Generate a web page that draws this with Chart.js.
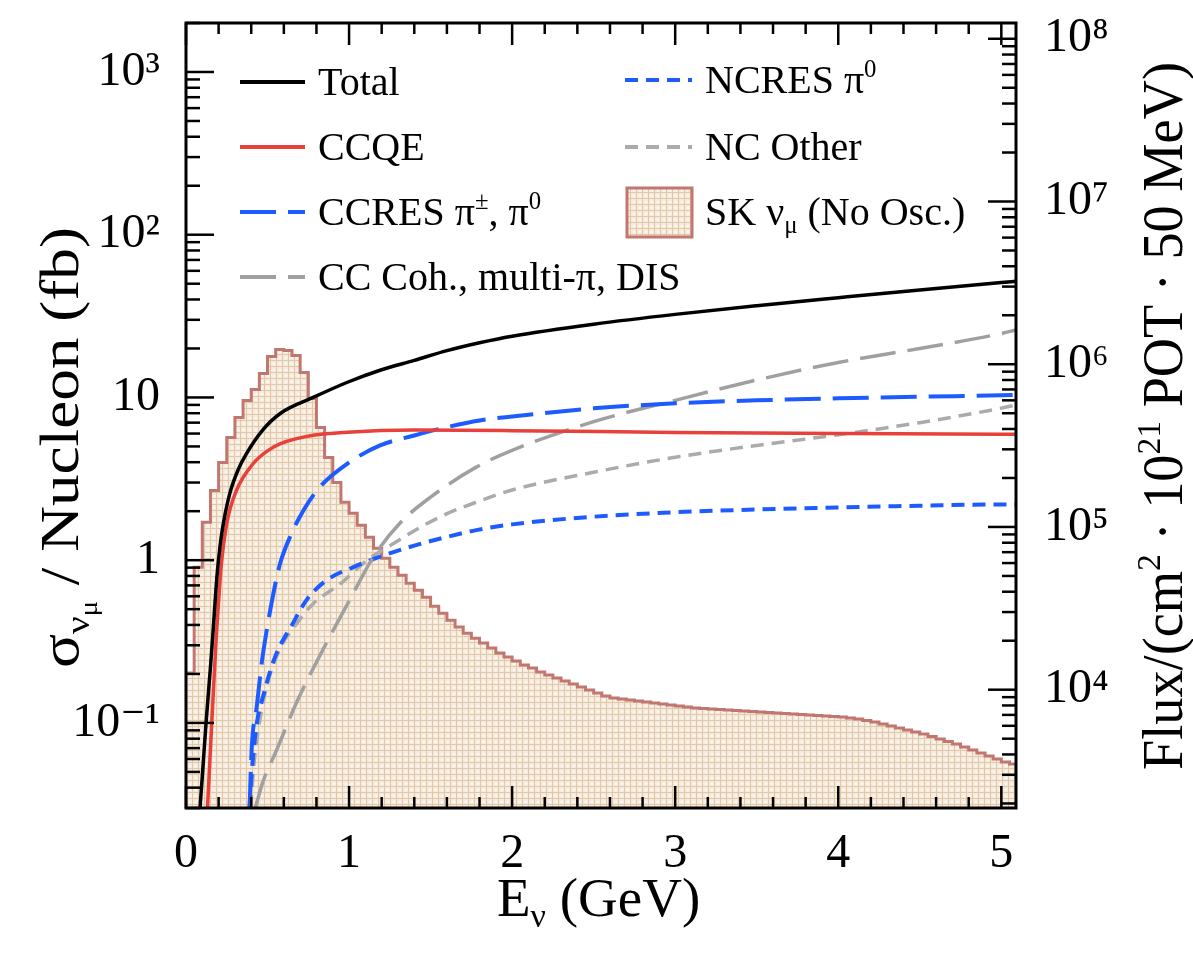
<!DOCTYPE html>
<html><head><meta charset="utf-8">
<script src="https://cdn.jsdelivr.net/npm/chart.js@4.4.1/dist/chart.umd.min.js"></script>
<style>html,body{margin:0;padding:0;background:#fff;}</style>
</head><body>
<canvas id="c" width="1193" height="953"></canvas>
<script>
// ---------------- DATA ----------------
const binWidth = 0.05; // GeV, SK flux histogram bins starting at 0
const fluxSK = [12650, 56560, 106800, 167800, 249300, 354900, 470800, 598600, 699000, 876000,
 1114000, 1230000, 1213000, 1130000, 889000, 616000, 409000, 267600, 187900, 141700,
 121300, 102400, 86400, 74000, 64200, 56600, 50500, 45100, 40900, 37000,
 32600, 29530, 26760, 24240, 22260, 20740, 19330, 18010, 16780, 15860,
 14990, 14170, 13580, 12830, 12300, 11790, 11300, 10830, 10380, 9950,
 9540, 9140, 8890, 8760, 8640, 8520, 8400, 8280, 8170, 8050,
 7940, 7830, 7720, 7660, 7610, 7550, 7500, 7450, 7400, 7350,
 7290, 7240, 7190, 7140, 7090, 7040, 6990, 6940, 6890, 6850,
 6800, 6700, 6610, 6470, 6330, 6160, 5990, 5820, 5660, 5500,
 5350, 5160, 4980, 4810, 4640, 4450, 4260, 4090, 3920, 3750,
 3600, 3500];

const totalE = [0.086,0.10,0.123,0.15,0.168,0.19,0.21,0.23,0.27,0.32,0.37,0.47,0.58,0.78,0.99,1.19,1.4,1.6,1.8,2.0,2.5,3.0,3.5,4.0,4.5,5.0,5.09];
const totalV = [0.03,0.047,0.1,0.22,0.39,0.8,1.25,1.7,2.6,3.6,4.5,6.3,8.0,10.0,12.4,14.7,16.9,19.4,21.7,23.8,28.2,32.4,36.6,41.0,45.8,50.8,51.8];

const ccqeE = [0.132,0.145,0.158,0.17,0.185,0.2,0.215,0.25,0.31,0.41,0.5,0.58,0.78,0.99,1.4,2.0,3.0,4.0,5.0,5.09];
const ccqeV = [0.03,0.055,0.1,0.17,0.33,0.56,0.9,1.68,2.69,3.9,4.7,5.2,5.85,6.12,6.3,6.25,6.1,6.0,5.95,5.95];

const ccresE = [0.39,0.403,0.434,0.464,0.495,0.536,0.577,0.638,0.72,0.82,0.99,1.19,1.4,1.6,1.8,2.0,2.5,3.0,3.5,4.0,4.5,5.0,5.09];
const ccresV = [0.03,0.07,0.126,0.232,0.371,0.624,0.953,1.39,2.02,2.81,3.92,5.07,5.84,6.57,7.22,7.64,8.57,9.2,9.6,9.87,10.1,10.3,10.35];

const ccothE = [0.425,0.47,0.55,0.68,0.83,1.0,1.15,1.31,1.5,1.78,2.0,2.5,3.0,3.5,4.0,4.5,5.0,5.09];
const ccothV = [0.03,0.043,0.066,0.135,0.27,0.56,1.05,1.68,2.44,3.73,4.73,7.1,9.6,12.8,16.4,20.0,24.7,26.0];

const ncresE = [0.39,0.40,0.43,0.48,0.55,0.65,0.74,0.86,1.03,1.19,1.4,1.6,1.78,2.0,2.5,3.0,3.5,4.0,4.5,5.0,5.09];
const ncresV = [0.03,0.045,0.093,0.155,0.26,0.40,0.57,0.75,0.91,1.05,1.23,1.39,1.53,1.66,1.85,1.97,2.05,2.11,2.16,2.2,2.2];

const ncothE = [0.395,0.42,0.45,0.5,0.58,0.68,0.78,0.95,1.11,1.27,1.44,1.6,1.78,2.0,2.5,3.0,3.5,4.0,4.5,5.0,5.09];
const ncothV = [0.03,0.06,0.1,0.175,0.29,0.41,0.54,0.72,1.0,1.26,1.6,1.93,2.27,2.7,3.47,4.29,5.07,5.9,7.0,8.6,9.0];

const xTicks = [0,1,2,3,4,5];
const yLeftTicks = [0.1,1,10,100,1000];
const yLeftLabels = ['10\u207B\u00B9','1','10','10\u00B2','10\u00B3'];
const yRightTicks = [1e4,1e5,1e6,1e7,1e8];
const yRightLabels = ['10\u2074','10\u2075','10\u2076','10\u2077','10\u2078'];

// ---------------- STYLE ----------------
const FAM = "'Liberation Serif','DejaVu Serif',serif";
const BLUE = '#1e5bff', RED = '#e8413c', GRAY1 = '#a0a0a0', GRAY2 = '#ababab', OUTLINE = '#c27670';
const LONG = [36,12], SHORT = [13,8];

const canvas = document.getElementById('c');
const mainCtx = canvas.getContext('2d');
function makePattern(){
  const c = document.createElement('canvas'); c.width = 6; c.height = 6;
  const g = c.getContext('2d');
  g.fillStyle = '#f5ebdf'; g.fillRect(0,0,6,6);
  g.fillStyle = '#e3c8a8'; g.fillRect(0,0,6,1); g.fillRect(0,0,1,6);
  g.fillStyle = '#fcf7f0'; g.fillRect(3,3,2,2);
  return mainCtx.createPattern(c,'repeat');
}
const PAT = makePattern();

const fluxPoints = fluxSK.map((v,k)=>({x:k*binWidth, y:v}));
fluxPoints.push({x: fluxSK.length*binWidth, y: fluxSK[fluxSK.length-1]});
const pts = (E,V)=>E.map((e,i)=>({x:e,y:V[i]}));

function lineDS(label, E, V, color, dash, w, order){
  return {label, data: pts(E,V), yAxisID:'y', borderColor:color, borderWidth:w, borderDash:dash,
    pointRadius:0, fill:false, cubicInterpolationMode:'monotone', order};
}

// ---------------- TEXT HELPERS ----------------
function segFont(s,size){ const sc = s.subsub?0.45:((s.sup||s.sub)?0.62:1); return (size*sc)+'px '+FAM; }
function richWidth(ctx,segs,size){ let w=0; for(const s of segs){ctx.font=segFont(s,size); w+=ctx.measureText(s.t).width;} return w; }
function drawRich(ctx,x,y,segs,size){
  for(const s of segs){
    ctx.font = segFont(s,size);
    const dy = s.sup? -0.40*size : s.sub? 0.20*size : s.subsub? 0.36*size : 0;
    ctx.fillText(s.t, x, y+dy);
    x += ctx.measureText(s.t).width;
  }
  return x;
}

const legendItems = [
  {segs:[{t:'Total'}], color:'#000', dash:[], col:0, row:0},
  {segs:[{t:'CCQE'}], color:RED, dash:[], col:0, row:1},
  {segs:[{t:'CCRES \u03C0'},{t:'\u00B1',sup:1},{t:', \u03C0'},{t:'0',sup:1}], color:BLUE, dash:LONG, col:0, row:2},
  {segs:[{t:'CC Coh., multi-\u03C0, DIS'}], color:GRAY1, dash:LONG, col:0, row:3},
  {segs:[{t:'NCRES \u03C0'},{t:'0',sup:1}], color:BLUE, dash:SHORT, col:1, row:0},
  {segs:[{t:'NC Other'}], color:GRAY2, dash:SHORT, col:1, row:1},
  {segs:[{t:'SK \u03BD'},{t:'\u03BC',sub:1},{t:' (No Osc.)'}], box:true, col:1, row:2}
];

const decor = {
  id:'decor',
  afterDraw(chart){
    const ctx = chart.ctx, ca = chart.chartArea;
    const xs = chart.scales.x, yl = chart.scales.y, yr = chart.scales.yR;
    ctx.save();
    ctx.strokeStyle = '#000'; ctx.lineWidth = 2.5; ctx.setLineDash([]);
    const L = (x1,y1,x2,y2)=>{ctx.beginPath();ctx.moveTo(x1,y1);ctx.lineTo(x2,y2);ctx.stroke();};
    for(let i=0;i<=25;i++){
      const px = xs.getPixelForValue(i/5); const len = (i%5===0)?22:11;
      L(px,ca.bottom,px,ca.bottom-len); L(px,ca.top,px,ca.top+len);
    }
    for(let d=-2; d<=3; d++) for(let m=1;m<=9;m++){
      const v = m*Math.pow(10,d); if(v<yl.min*0.999||v>yl.max*1.001) continue;
      const py = yl.getPixelForValue(v); L(ca.left,py,ca.left+(m===1?28:14),py);
    }
    for(let d=3; d<=8; d++) for(let m=1;m<=9;m++){
      const v = m*Math.pow(10,d); if(v<yr.min*0.999||v>yr.max*1.001) continue;
      const py = yr.getPixelForValue(v); L(ca.right,py,ca.right-(m===1?28:14),py);
    }
    ctx.lineWidth = 3;
    ctx.strokeRect(ca.left, ca.top, ca.right-ca.left, ca.bottom-ca.top);

    // legend
    const cols = [{x0:240,x1:305,tx:318,rows:[82,147,212,277]},{x0:625,x1:692,tx:705,rows:[80,147,212]}];
    ctx.fillStyle = '#000'; ctx.textBaseline = 'alphabetic'; ctx.textAlign = 'left';
    for(const it of legendItems){
      const c = cols[it.col], ry = c.rows[it.row];
      if(it.box){
        ctx.fillStyle = PAT; ctx.fillRect(c.x0+2, ry-24, c.x1-c.x0-2, 49);
        ctx.strokeStyle = OUTLINE; ctx.lineWidth = 3; ctx.setLineDash([]);
        ctx.strokeRect(c.x0+2, ry-24, c.x1-c.x0-2, 49);
      } else {
        ctx.strokeStyle = it.color; ctx.lineWidth = 4; ctx.setLineDash(it.dash);
        L(c.x0, ry, c.x1, ry);
      }
      ctx.setLineDash([]); ctx.fillStyle = '#000';
      drawRich(ctx, c.tx, ry+13, it.segs, 40);
    }

    // axis titles
    const leftSegs = [{t:'\u03C3'},{t:'\u03BD',sub:1},{t:'\u03BC',subsub:1},{t:' / Nucleon (fb)'}];
    const rightSegs = [{t:'Flux/(cm'},{t:'2',sup:1},{t:' \u00B7 10'},{t:'21',sup:1},{t:' POT \u00B7 50 MeV)'}];
    const xSegs = [{t:'E'},{t:'\u03BD',sub:1},{t:' (GeV)'}];
    function vtitle(segs,size,bx,yStart,yEnd){
      const w = richWidth(ctx,segs,size); const s = (yStart-yEnd)/w;
      ctx.save(); ctx.translate(bx,yStart); ctx.rotate(-Math.PI/2); ctx.scale(s,1);
      drawRich(ctx,0,0,segs,size); ctx.restore();
    }
    vtitle(leftSegs,54,78,668,227);
    vtitle(rightSegs,56,1182,770,62);
    drawRich(ctx, 497, 916, xSegs, 55);
    ctx.restore();
  }
};

const noPadV = (s,w)=>{ s.width = w; s.paddingTop = 0; s.paddingBottom = 0; };

new Chart(canvas, {
  type:'line',
  data:{ datasets:[
    lineDS('Total', totalE, totalV, '#000', [], 3.5, 1),
    lineDS('CCQE', ccqeE, ccqeV, RED, [], 3.5, 2),
    lineDS('CCRES \u03C0\u00B1, \u03C00', ccresE, ccresV, BLUE, LONG, 4, 3),
    lineDS('CC Coh., multi-\u03C0, DIS', ccothE, ccothV, GRAY1, LONG, 3.5, 4),
    lineDS('NCRES \u03C00', ncresE, ncresV, BLUE, SHORT, 4, 5),
    lineDS('NC Other', ncothE, ncothV, GRAY2, SHORT, 3.5, 6),
    {label:'SK \u03BD\u03BC (No Osc.)', data:fluxPoints, yAxisID:'yR', stepped:true, fill:'start',
     backgroundColor:PAT, borderColor:OUTLINE, borderWidth:3, pointRadius:0, order:10}
  ]},
  options:{
    responsive:false, animation:false, devicePixelRatio:1,
    layout:{padding:{top:23,left:0,right:0,bottom:0}},
    plugins:{legend:{display:false}, tooltip:{enabled:false}},
    scales:{
      x:{type:'linear', position:'bottom', min:0, max:5.09,
        grid:{display:false}, border:{display:false},
        afterBuildTicks:(s)=>{s.ticks = xTicks.map(v=>({value:v}));},
        afterFit:(s)=>{s.height = 145; s.paddingLeft = 0; s.paddingRight = 0;},
        ticks:{autoSkip:false, maxRotation:0, padding:10, color:'#000', font:{family:FAM, size:48},
          callback:(v)=>String(v)}},
      y:{type:'logarithmic', position:'left', min:0.03, max:2000,
        grid:{display:false}, border:{display:false},
        afterBuildTicks:(s)=>{s.ticks = yLeftTicks.map(v=>({value:v}));},
        afterFit:(s)=>noPadV(s,186),
        ticks:{autoSkip:false, padding:18, color:'#000', font:{family:FAM, size:48},
          callback:(v)=>{const i=yLeftTicks.indexOf(v); return i>=0?yLeftLabels[i]:'';}}},
      yR:{type:'logarithmic', position:'right', min:1875, max:1.25e8,
        grid:{display:false}, border:{display:false},
        afterBuildTicks:(s)=>{s.ticks = yRightTicks.map(v=>({value:v}));},
        afterFit:(s)=>noPadV(s,177),
        ticks:{autoSkip:false, padding:20, color:'#000', font:{family:FAM, size:48},
          callback:(v)=>{const i=yRightTicks.indexOf(v); return i>=0?yRightLabels[i]:'';}}}
    }
  },
  plugins:[decor]
});
</script>
</body></html>
